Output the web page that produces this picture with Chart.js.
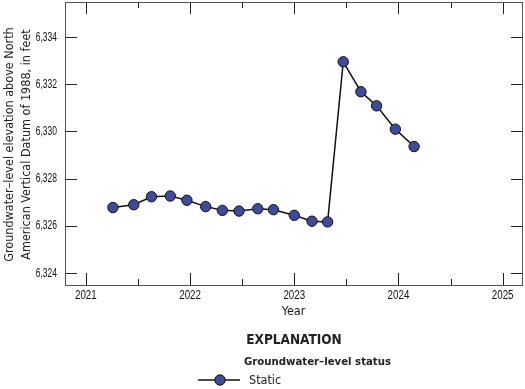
<!DOCTYPE html>
<html>
<head>
<meta charset="utf-8">
<script src="https://cdn.jsdelivr.net/npm/chart.js@4"></script>
<style>
  html, body { margin: 0; padding: 0; background: #fff; }
  #wrap { width: 525px; height: 389px; position: relative; }
</style>
</head>
<body>
<div id="wrap"><canvas id="myChart" width="525" height="389"></canvas></div>
<script>
// decimal year of each measurement
const years = [2021.26, 2021.46, 2021.63, 2021.81, 2021.97, 2022.15, 2022.31, 2022.47, 2022.65,
               2022.80, 2023.00, 2023.17, 2023.32, 2023.47, 2023.64, 2023.79, 2023.97, 2024.15];
// groundwater-level elevation, feet
const levels = [6326.77, 6326.89, 6327.23, 6327.26, 6327.08, 6326.81, 6326.65, 6326.62, 6326.72,
                6326.68, 6326.44, 6326.19, 6326.16, 6332.96, 6331.69, 6331.09, 6330.10, 6329.36];
const xTicks = [2021, 2022, 2023, 2024, 2025];
const xMinorTicks = [2021.5, 2022.5, 2023.5, 2024.5];
const yTicks = [6324, 6326, 6328, 6330, 6332, 6334];

const FONT = '"DejaVu Sans Condensed", "DejaVu Sans", sans-serif';
const TICK_FONT = '"Liberation Sans", Arial, sans-serif';
const pointColor = '#3F4A9B';

// text squeezed horizontally to look like a condensed face
function narrowText(ctx, str, x, y, align, sx) {
    ctx.save();
    ctx.translate(x, y);
    ctx.scale(sx, 1);
    ctx.textAlign = align;
    ctx.fillText(str, 0, 0);
    ctx.restore();
}

// inward ticks on all four sides, tick labels, the frame and the explanation block
const framePlugin = {
    id: 'frame',
    afterDraw(chart) {
        const ctx = chart.ctx;
        const a = chart.chartArea;
        const xs = chart.scales.x, ys = chart.scales.y;
        ctx.save();
        ctx.strokeStyle = '#222';
        ctx.lineWidth = 1;
        ctx.beginPath();
        xTicks.forEach(v => {
            const px = Math.round(xs.getPixelForValue(v)) + 0.5;
            ctx.moveTo(px, a.bottom); ctx.lineTo(px, a.bottom - 12);
            ctx.moveTo(px, a.top); ctx.lineTo(px, a.top + 12);
        });
        xMinorTicks.forEach(v => {
            const px = Math.round(xs.getPixelForValue(v)) + 0.5;
            ctx.moveTo(px, a.bottom); ctx.lineTo(px, a.bottom - 6);
            ctx.moveTo(px, a.top); ctx.lineTo(px, a.top + 6);
        });
        yTicks.forEach(v => {
            const py = Math.round(ys.getPixelForValue(v)) + 0.5;
            ctx.moveTo(a.left, py); ctx.lineTo(a.left + 12, py);
            ctx.moveTo(a.right, py); ctx.lineTo(a.right - 12, py);
        });
        ctx.stroke();

        ctx.strokeStyle = '#555';
        ctx.strokeRect(a.left + 0.5, a.top + 0.5, a.right - a.left - 1, a.bottom - a.top);

        // tick labels from the scales' own ticks
        ctx.fillStyle = '#111';
        ctx.textBaseline = 'middle';
        ctx.font = '12.5px ' + TICK_FONT;
        xs.ticks.forEach(t => {
            narrowText(ctx, String(t.value), xs.getPixelForValue(t.value), a.bottom + 10.5, 'center', 0.78);
        });
        ctx.font = '12px ' + TICK_FONT;
        ys.ticks.forEach(t => {
            narrowText(ctx, t.value.toLocaleString('en-US'), a.left - 8, ys.getPixelForValue(t.value) + 0.5, 'right', 0.71);
        });

        // axis titles
        ctx.fillStyle = '#222';
        ctx.textAlign = 'center';
        ctx.font = '12.5px ' + FONT;
        ctx.fillText('Year', (a.left + a.right) / 2 - 0.5, 312);

        ctx.save();
        ctx.translate(10, (a.top + a.bottom) / 2 + 1);
        ctx.rotate(-Math.PI / 2);
        ctx.fillText('Groundwater\u2013level elevation above North', 0, 0);
        ctx.fillText('American Vertical Datum of 1988, in feet', 0, 17);
        ctx.restore();

        // explanation
        ctx.font = 'bold 13.5px ' + FONT;
        ctx.fillText('EXPLANATION', 294, 340);
        ctx.textAlign = 'left';
        ctx.font = 'bold 11.3px ' + FONT;
        ctx.fillText('Groundwater\u2013level status', 244, 362);
        ctx.font = '12.5px ' + FONT;
        ctx.fillText('Static', 249, 381);

        ctx.strokeStyle = '#111';
        ctx.lineWidth = 1.5;
        ctx.beginPath();
        ctx.moveTo(198, 380); ctx.lineTo(240, 380);
        ctx.stroke();
        ctx.beginPath();
        ctx.arc(220, 380, 5.2, 0, Math.PI * 2);
        ctx.fillStyle = pointColor;
        ctx.fill();
        ctx.lineWidth = 1;
        ctx.stroke();
        ctx.restore();
    }
};

function noEdgePadding(s) {
    s.paddingTop = 0; s.paddingBottom = 0;
    s.paddingLeft = 0; s.paddingRight = 0;
}

const ctx = document.getElementById('myChart').getContext('2d');
const myChart = new Chart(ctx, {
    type: 'line',
    data: {
        datasets: [{
            data: years.map((y, i) => ({ x: y, y: levels[i] })),
            borderColor: '#111',
            borderWidth: 1.5,
            pointBackgroundColor: pointColor,
            pointBorderColor: '#111',
            pointBorderWidth: 1,
            pointRadius: 5.2,
            tension: 0,
            fill: false
        }]
    },
    options: {
        responsive: false,
        animation: false,
        layout: { autoPadding: false, padding: { left: 0, right: 2, top: 2, bottom: 0 } },
        plugins: {
            legend: { display: false },
            tooltip: { enabled: false }
        },
        scales: {
            x: {
                type: 'linear',
                min: 2020.8,
                max: 2025.195,
                grid: { display: false, drawTicks: false },
                border: { display: false },
                afterBuildTicks: s => { s.ticks = xTicks.map(v => ({ value: v })); },
                afterFit: s => { s.height = 104; noEdgePadding(s); },
                ticks: { display: false }
            },
            y: {
                min: 6323.48,
                max: 6335.5,
                grid: { display: false, drawTicks: false },
                border: { display: false },
                afterBuildTicks: s => { s.ticks = yTicks.map(v => ({ value: v })); },
                afterFit: s => { s.width = 65; noEdgePadding(s); },
                ticks: { display: false }
            }
        }
    },
    plugins: [framePlugin]
});
</script>
</body>
</html>
